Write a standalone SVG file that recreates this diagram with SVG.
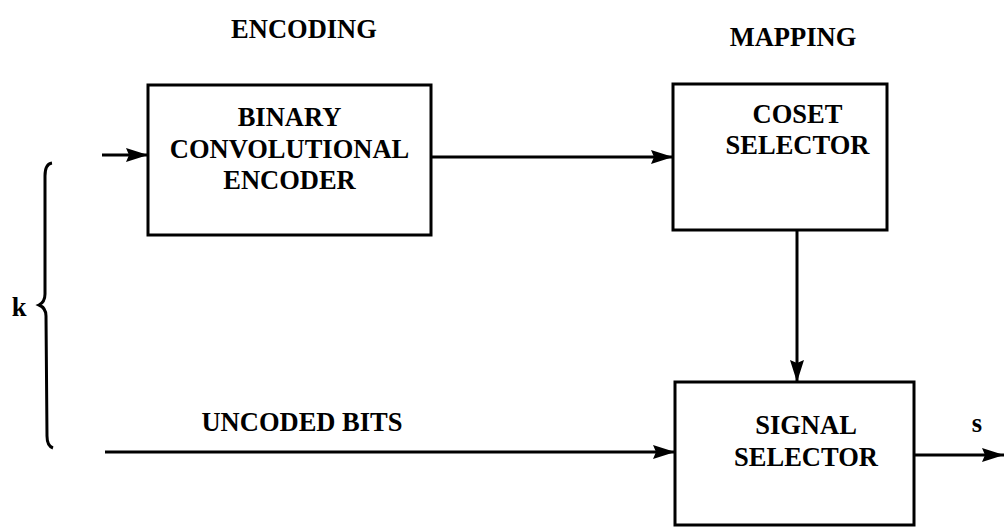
<svg xmlns="http://www.w3.org/2000/svg" width="1006" height="528" viewBox="0 0 1006 528">
<style>
.t{font-family:"Liberation Serif","Times New Roman",serif;font-weight:bold;font-size:26.5px;fill:#000;text-anchor:middle}
.b{fill:none;stroke:#000;stroke-width:3}
.c{fill:none;stroke:#000;stroke-width:3}
</style>
<defs>
<marker id="ah" viewBox="0 0 22 14" refX="22" refY="7" markerWidth="22" markerHeight="14" markerUnits="userSpaceOnUse" orient="auto">
<path d="M0,0 L22,7 L0,14 L3,7 Z" fill="#000"/>
</marker>
</defs>
<rect width="1006" height="528" fill="#fff"/>
<text class="t" x="304" y="38">ENCODING</text>
<text class="t" x="793" y="46">MAPPING</text>
<g id="encoder">
<rect class="b" x="148" y="85" width="283" height="150"/>
<text class="t" x="289.5" y="126">BINARY</text>
<text class="t" x="289.5" y="158">CONVOLUTIONAL</text>
<text class="t" x="289.5" y="189">ENCODER</text>
</g>
<g id="coset">
<rect class="b" x="673" y="84" width="214" height="146"/>
<text class="t" x="797.5" y="123">COSET</text>
<text class="t" x="797.5" y="154">SELECTOR</text>
</g>
<g id="signal">
<rect class="b" x="675" y="382" width="239" height="143"/>
<text class="t" x="806" y="434">SIGNAL</text>
<text class="t" x="806" y="466">SELECTOR</text>
</g>
<g id="labels">
<text class="t" x="302" y="431">UNCODED BITS</text>
<text class="t" x="977" y="432">s</text>
<text class="t" x="19" y="316">k</text>
<path class="c" d="M52,163 Q45,164 45,176 L45,294 Q45,302 39,305 Q46,308 46,316 L47,436 Q47,446 53,448"/>
</g>
<g id="connectors">
<line class="c" x1="102" y1="155" x2="148" y2="155" marker-end="url(#ah)"/>
<line class="c" x1="431" y1="157" x2="673" y2="157" marker-end="url(#ah)"/>
<line class="c" x1="797" y1="230" x2="797" y2="382" marker-end="url(#ah)"/>
<line class="c" x1="105" y1="452" x2="675" y2="452" marker-end="url(#ah)"/>
<line class="c" x1="914" y1="455" x2="1004" y2="455" marker-end="url(#ah)"/>
</g>
</svg>
